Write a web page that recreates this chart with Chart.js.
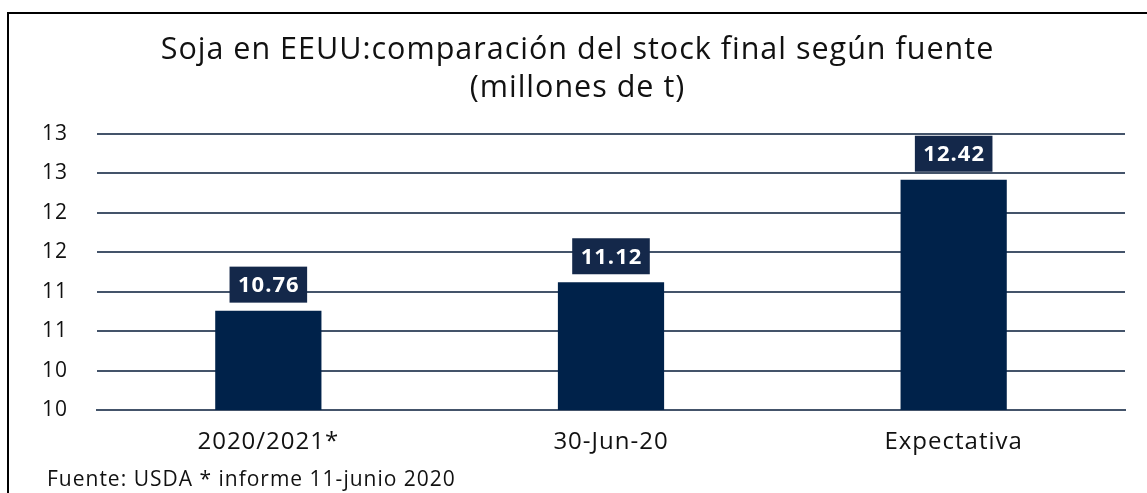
<!DOCTYPE html>
<html>
<head>
<meta charset="utf-8">
<script src="https://cdn.jsdelivr.net/npm/chart.js@4.4.1/dist/chart.umd.min.js"></script>
<style>
  html, body { margin: 0; padding: 0; background: #fff; }
  #wrap { position: relative; width: 1147px; height: 493px; overflow: hidden; }
  #frame { position: absolute; left: 7px; top: 12px; right: -10px; bottom: -10px;
           border-left: 2px solid #000; border-top: 2px solid #000; }
  #chart { position: absolute; left: 0; top: 0; }
  #fuente { position: absolute; left: 47px; top: 468px; font-family: "Open Sans", sans-serif;
            font-size: 21px; line-height: 21px; letter-spacing: 1px; color: #111; white-space: nowrap; }
</style>
</head>
<body>
<div id="wrap">
  <div id="frame"></div>
  <canvas id="chart" width="1147" height="493"></canvas>
  <div id="fuente">Fuente: USDA * informe 11-junio 2020</div>
</div>
<script>
var categorias = ['2020/2021*', '30-Jun-20', 'Expectativa'];
var stock_final = [10.76, 11.12, 12.42];
var titulo = ['Soja en EEUU:comparación del stock final según fuente', '(millones de t)'];

var bar_color = '#00224a';
var box_color = '#14284a';
var grid_color = '#44546a';
var font_family = '"Open Sans", sans-serif';

// texto un poco mas ancho, como en la imagen original
var spacing = {
    id: 'spacing',
    beforeUpdate: function(chart) { chart.ctx.letterSpacing = '1px'; },
    beforeDraw: function(chart) { chart.ctx.letterSpacing = '1px'; }
};

// etiquetas con caja oscura sobre cada barra
var box_labels = {
    id: 'box_labels',
    afterDatasetsDraw: function(chart) {
        var ctx = chart.ctx;
        var meta = chart.getDatasetMeta(0);
        ctx.save();
        ctx.font = 'bold 22px ' + font_family;
        ctx.textAlign = 'center';
        ctx.textBaseline = 'middle';
        for (var i = 0; i < meta.data.length; i++) {
            var bar = meta.data[i];
            var txt = stock_final[i].toFixed(2);
            var w = ctx.measureText(txt).width + 16;
            var h = 36;
            var bottom = bar.y - 8;
            ctx.fillStyle = box_color;
            ctx.fillRect(bar.x - w / 2, bottom - h, w, h);
            ctx.fillStyle = '#fff';
            ctx.fillText(txt, bar.x + 0.5, bottom - h / 2 + 1);
        }
        ctx.restore();
    }
};

var ctx = document.getElementById('chart').getContext('2d');
var myChart = new Chart(ctx, {
    type: 'bar',
    data: {
        labels: categorias,
        datasets: [{
            data: stock_final,
            backgroundColor: bar_color,
            borderWidth: 0,
            barPercentage: 0.31,
            categoryPercentage: 1
        }]
    },
    options: {
        responsive: false,
        animation: false,
        layout: { padding: { left: 30, right: 22, top: 0, bottom: 33 } },
        plugins: {
            legend: { display: false },
            tooltip: { enabled: false },
            title: {
                display: true,
                text: titulo,
                color: '#111',
                font: { family: font_family, size: 30.5, weight: 'normal', lineHeight: 1.246 },
                padding: { top: 31, bottom: 27 }
            }
        },
        scales: {
            x: {
                afterFit: function(s) { s.height = 50; },
                grid: { display: false, drawTicks: false },
                border: { display: true, color: grid_color, width: 2 },
                ticks: { color: '#111', padding: 18, font: { family: font_family, size: 24 } }
            },
            y: {
                min: 9.5,
                max: 13,
                afterFit: function(s) { s.width = 67; },
                grid: { color: grid_color, lineWidth: 2, drawTicks: false },
                border: { display: false },
                ticks: {
                    stepSize: 0.5,
                    padding: 29,
                    color: '#111',
                    font: { family: font_family, size: 21 },
                    callback: function(v) { return Math.round(v); }
                }
            }
        }
    },
    plugins: [spacing, box_labels]
});
</script>
</body>
</html>
